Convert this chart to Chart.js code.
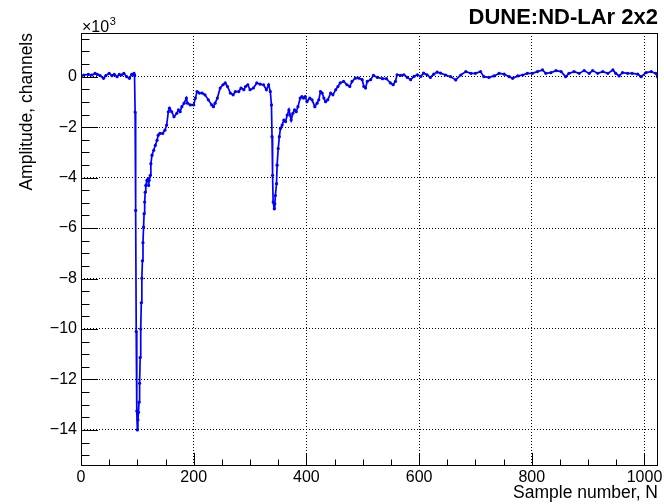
<!DOCTYPE html>
<html>
<head>
<meta charset="utf-8">
<script src="https://cdn.jsdelivr.net/npm/chart.js@4.4.1/dist/chart.umd.min.js"></script>
<style>
  html, body { margin: 0; padding: 0; background: #fff; }
  #wrap { width: 664px; height: 504px; }
</style>
</head>
<body>
<div id="wrap"><canvas id="c" width="664" height="504"></canvas></div>
<script>
// ---------- DATA ----------
const sampleN = [
  0, 5, 13, 19, 25, 29, 34, 40, 44, 50, 55, 59, 64, 68, 72, 76, 81, 86, 90, 94,
  95, 96, 97, 98, 99, 100, 101, 102, 103, 104, 105, 106, 107, 108, 109, 110, 111, 112, 113, 114,
  115, 117, 119, 120, 121, 123, 124, 126, 129, 132, 135, 137, 140, 145, 149, 152, 155, 157, 161, 165,
  170, 173, 176, 179, 183, 187, 189, 194, 200, 203, 206, 210, 215, 220, 226, 232, 235, 238, 242, 247,
  252, 256, 260, 265, 270, 274, 280, 284, 289, 292, 296, 300, 306, 312, 318, 324, 329, 333, 336, 338,
  339, 340, 341, 343, 344, 345, 347, 348, 350, 352, 354, 357, 360, 363, 366, 369, 371, 373, 376, 379,
  382, 385, 389, 392, 395, 398, 401, 406, 410, 415, 419, 422, 425, 428, 431, 434, 438, 443, 447, 452,
  456, 460, 466, 472, 477, 481, 487, 493, 499, 502, 505, 508, 514, 519, 526, 535, 542, 549, 554, 558,
  561, 567, 573, 579, 585, 591, 597, 603, 608, 614, 620, 626, 632, 638, 647, 656, 665, 674, 683, 692,
  700, 709, 715, 724, 733, 742, 751, 760, 766, 775, 784, 792, 801, 810, 819, 825, 834, 843, 852, 860,
  866, 875, 884, 893, 902, 908, 917, 926, 935, 944, 949, 955, 961, 970, 978, 988, 994, 1003, 1012, 1020,
  1023
];
const amplitude = [
  20, 65, 90, 65, 130, 90, 40, -65, 40, 130, 40, 90, 0, 90, 65, 130, 0, -65, 90, 130,
  60, -1400, -5300, -10100, -13250, -14000, -13600, -13300, -12900, -12150, -11130, -10000, -8960, -7990, -7300, -6580, -5960, -5430, -4970, -4580,
  -4310, -4110, -4050, -4310, -4110, -3910, -3450, -3110, -2920, -2720, -2520, -2320, -2250, -2250, -2120, -1920, -1390, -1250, -1390, -1590,
  -1450, -1320, -1390, -1190, -1050, -850, -1050, -1120, -1120, -850, -590, -650, -650, -720, -920, -1120, -1190, -1050, -850, -450,
  -320, -250, -390, -650, -720, -590, -590, -450, -520, -390, -320, -520, -450, -250, -300, -320, -520, -320, -590, -1120,
  -2380, -3910, -4970, -5240, -5040, -4710, -4240, -3510, -2850, -2380, -2050, -1920, -1720, -1780, -1520, -1320, -1520, -1720, -1450, -1320,
  -1390, -1190, -850, -790, -850, -790, -990, -850, -920, -1190, -1050, -920, -590, -650, -850, -990, -920, -650, -720, -520,
  -390, -250, -190, -320, -390, -190, -60, -60, -120, -390, -450, -190, -120, 50, -30, -80, -80, -250, -320, -190,
  75, 50, 75, -30, -120, 10, 75, 10, 140, 75, -30, 100, 180, 140, 65, 0, -130, 65, 200, 130,
  130, 200, 0, -30, 30, 130, 100, 0, -65, 30, 65, 130, 130, 200, 265, 130, 160, 240, 200, 0,
  130, 200, 130, 240, 130, 240, 130, 200, 130, 265, 130, 30, 160, 130, 130, 100, 0, 160, 200, 130,
  0
];

// axis ranges and ticks
const xMin = 0, xMax = 1024;
const yMin = -15430, yMax = 1730;
const xTickValues = [0, 200, 400, 600, 800, 1000];
const xTickLabels = ["0", "200", "400", "600", "800", "1000"];
const xMinorTicks = [0, 50, 100, 150, 200, 250, 300, 350, 400, 450, 500, 550, 600, 650, 700, 750, 800, 850, 900, 950, 1000];
const yTickValues = [0, -2000, -4000, -6000, -8000, -10000, -12000, -14000];
const yTickLabels = ["0", "\u22122", "\u22124", "\u22126", "\u22128", "\u221210", "\u221212", "\u221214"];
const yMinorTicks = [1500, 1000, 500, 0, -500, -1000, -1500, -2000, -2500, -3000, -3500, -4000, -4500, -5000,
  -5500, -6000, -6500, -7000, -7500, -8000, -8500, -9000, -9500, -10000, -10500, -11000, -11500,
  -12000, -12500, -13000, -13500, -14000, -14500, -15000];

const FONT = "'Liberation Sans', Arial, Helvetica, sans-serif";
Chart.defaults.font.family = FONT;
Chart.defaults.color = "#000";

// ---------- ROOT-like frame, inner ticks, x10^3 ----------
const rootFrame = {
  id: "rootFrame",
  afterDraw(chart) {
    const { ctx, chartArea: a, scales } = chart;
    const xs = scales.x, ys = scales.y;
    ctx.save();
    ctx.strokeStyle = "#000";
    ctx.lineWidth = 1;
    ctx.setLineDash([]);
    ctx.strokeRect(Math.round(a.left) + 0.5, Math.round(a.top) + 0.5,
      Math.round(a.right - a.left) - 1, Math.round(a.bottom - a.top) - 1);

    ctx.beginPath();
    xMinorTicks.forEach((v) => {
      const px = Math.round(xs.getPixelForValue(v)) + 0.5;
      const len = xTickValues.includes(v) ? 13 : 6.5;
      ctx.moveTo(px, a.bottom);
      ctx.lineTo(px, a.bottom - len);
    });
    yMinorTicks.forEach((v) => {
      const py = Math.round(ys.getPixelForValue(v)) + 0.5;
      const len = yTickValues.includes(v) ? 17 : 8.5;
      ctx.moveTo(a.left, py);
      ctx.lineTo(a.left + len, py);
    });
    ctx.stroke();

    ctx.fillStyle = "#000";
    ctx.textAlign = "left";
    ctx.textBaseline = "alphabetic";
    ctx.font = "16px " + FONT;
    ctx.fillText("\u00d710", a.left + 1, a.top - 1.5);
    const w = ctx.measureText("\u00d710").width;
    ctx.font = "11px " + FONT;
    ctx.fillText("3", a.left + 1 + w + 0.5, a.top - 8.5);
    ctx.restore();
  }
};

const ctx = document.getElementById("c").getContext("2d");
const chart = new Chart(ctx, {
  type: "line",
  data: {
    datasets: [{
      data: sampleN.map((n, i) => ({ x: n, y: amplitude[i] })),
      borderColor: "#0000ff",
      backgroundColor: "#0000ff",
      borderWidth: 1.7,
      pointRadius: 1.6,
      pointBorderWidth: 0,
      pointBackgroundColor: "#0000ff",
      tension: 0,
      fill: false
    }]
  },
  options: {
    responsive: false,
    animation: false,
    devicePixelRatio: 1,
    layout: { padding: { left: 0, right: 6, top: 0, bottom: 0 } },
    plugins: {
      legend: { display: false },
      tooltip: { enabled: false },
      title: {
        display: true,
        text: "DUNE:ND-LAr 2x2",
        align: "end",
        color: "#000",
        font: { size: 22, weight: "bold", family: FONT },
        padding: { top: 5, bottom: 1.6 }
      }
    },
    scales: {
      x: {
        type: "linear",
        min: xMin,
        max: xMax,
        afterBuildTicks: (s) => { s.ticks = xTickValues.map((v) => ({ value: v })); },
        afterFit: (s) => { s.height = 38; s.paddingLeft = 0; s.paddingRight = 0; },
        ticks: {
          autoSkip: false,
          maxRotation: 0,
          padding: 2,
          color: "#000",
          font: { size: 16 },
          callback: (v) => xTickLabels[xTickValues.indexOf(v)]
        },
        grid: { color: "#000", lineWidth: 1, drawTicks: false },
        border: { display: false, dash: [1, 2] },
        title: {
          display: true,
          text: "Sample number, N",
          align: "end",
          color: "#000",
          font: { size: 17.5 },
          padding: { top: 0, bottom: 0 }
        }
      },
      y: {
        type: "linear",
        min: yMin,
        max: yMax,
        afterBuildTicks: (s) => { s.ticks = yTickValues.map((v) => ({ value: v })); },
        afterFit: (s) => { s.width = 81; s.paddingTop = 0; s.paddingBottom = 0; },
        ticks: {
          autoSkip: false,
          padding: 4,
          color: "#000",
          font: { size: 16 },
          callback: (v) => yTickLabels[yTickValues.indexOf(v)]
        },
        grid: { color: "#000", lineWidth: 1, drawTicks: false },
        border: { display: false, dash: [1, 2] },
        title: {
          display: true,
          text: "Amplitude, channels",
          align: "end",
          color: "#000",
          font: { size: 17.5 },
          padding: { top: 16.5, bottom: 0 }
        }
      }
    }
  },
  plugins: [rootFrame]
});
</script>
</body>
</html>
